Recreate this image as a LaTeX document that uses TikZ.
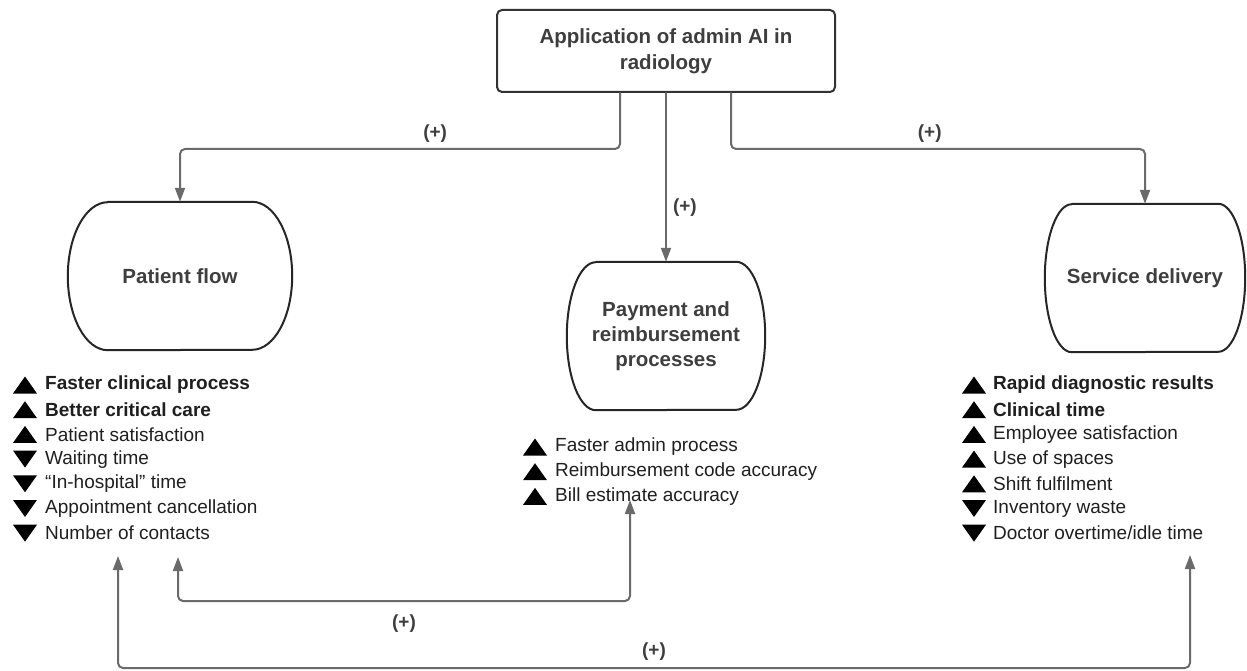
\documentclass[tikz,border=0pt]{standalone}
\usepackage{fontspec}
\setmainfont{Liberation Sans}
\usetikzlibrary{arrows.meta}
\definecolor{linegray}{HTML}{6A6A6A}
\definecolor{textgray}{HTML}{3E3E3E}
\begin{document}
\begin{tikzpicture}[x=1pt,y=1pt,line join=round,line cap=round,
  conn/.style={draw=linegray,line width=2pt,rounded corners=5pt,-{Triangle[width=10pt,length=14pt]}},
  twoway/.style={conn,{Triangle[width=10pt,length=14pt]}-{Triangle[width=10pt,length=14pt]}},
  plus/.style={font=\fontsize{19}{19}\selectfont\bfseries,text=textgray,inner sep=2pt},
  area/.style={minimum width=#1,minimum height=148pt,inner sep=0pt,align=center,text=textgray,
    font=\fontsize{20.5}{25}\selectfont\bfseries},
  item/.style={anchor=west,inner sep=0pt,font=\fontsize{19}{19}\selectfont,text=black!88},
  ]
 \useasboundingbox (0,0) rectangle (1247,-671);
 \def\capsule#1#2{\draw[line width=2pt,draw=black!85] ([xshift=#2]#1.north west) -- ([xshift=-#2]#1.north east)
   arc[start angle=90,end angle=-90,x radius=#2,y radius=74pt] -- ([xshift=#2]#1.south west)
   arc[start angle=270,end angle=90,x radius=#2,y radius=74pt] -- cycle;}
 % main box and the three areas
 \node[draw=black!80,line width=2pt,rounded corners=5pt,minimum width=338pt,minimum height=82pt,align=center,
   text=textgray,font=\fontsize{20.5}{26}\selectfont\bfseries] (app) at (666,-51) {Application of admin AI in\\radiology};
 \node[area=224pt] (pf) at (180,-276) {Patient flow};
 \node[area=198pt] (pay) at (666,-336) {Payment and\\reimbursement\\processes};
 \node[area=200pt] (sd) at (1145,-278) {Service delivery};
 \capsule{pf}{40pt}
 \capsule{pay}{29pt}
 \capsule{sd}{27pt}
 % lists (1 = up, -1 = down)
 \foreach \s/\w/\t [count=\i from 0] in {1/\bfseries/Faster clinical process,1/\bfseries/Better critical care,
   1/\mdseries/Patient satisfaction,-1/\mdseries/Waiting time,-1/\mdseries/“In-hospital” time,
   -1/\mdseries/Appointment cancellation,-1/\mdseries/Number of contacts}{
   \fill (13,{-385-24.7*\i-8.5*\s}) -- (37,{-385-24.7*\i-8.5*\s}) -- (25,{-385-24.7*\i+8.5*\s}) -- cycle;
   \node[item,font=\fontsize{19}{19}\selectfont\w] (pf-\i) at (45,{-385-24.7*\i}) {\t};
 }
 \foreach \s/\w/\t [count=\i from 0] in {1/\mdseries/Faster admin process,1/\mdseries/Reimbursement code accuracy,
   1/\mdseries/Bill estimate accuracy}{
   \fill (523,{-447-24.7*\i-8.5*\s}) -- (547,{-447-24.7*\i-8.5*\s}) -- (535,{-447-24.7*\i+8.5*\s}) -- cycle;
   \node[item,font=\fontsize{19}{19}\selectfont\w] (pay-\i) at (555,{-447-24.7*\i}) {\t};
 }
 \foreach \s/\w/\t [count=\i from 0] in {1/\bfseries/Rapid diagnostic results,1/\bfseries/Clinical time,
   1/\mdseries/Employee satisfaction,1/\mdseries/Use of spaces,1/\mdseries/Shift fulfilment,
   -1/\mdseries/Inventory waste,-1/\mdseries/{Doctor overtime/idle time}}{
   \fill (962,{-385-24.7*\i-8.5*\s}) -- (986,{-385-24.7*\i-8.5*\s}) -- (974,{-385-24.7*\i+8.5*\s}) -- cycle;
   \node[item,font=\fontsize{19}{19}\selectfont\w] (sd-\i) at (993,{-385-24.7*\i}) {\t};
 }
 % connectors
 \draw[conn] ([xshift=-46pt]app.south) -- ++(0,-56) -| node[plus,pos=0.21,above=4pt] (p1) {(+)} (pf.north);
 \draw[conn] (app.south) -- node[plus,pos=0.68,right=4pt] (p2) {(+)} (pay.north);
 \draw[conn] ([xshift=65pt]app.south) -- ++(0,-56) -| node[plus,pos=0.24,above=4pt] (p3) {(+)} (sd.north);
 \coordinate (pfin) at (178,-557);
 \coordinate (pfout) at (118,-556);
 \coordinate (payin) at (630,-500);
 \coordinate (sdout) at (1190,-555);
 \draw[twoway] (pfin) -- ++(0,-44) -| node[plus,pos=0.25,below=11pt] (p4) {(+)} (payin);
 \draw[twoway] (pfout) -- ++(0,-112) -| node[plus,pos=0.25,above=5pt] (p5) {(+)} (sdout);
\end{tikzpicture}
\end{document}
